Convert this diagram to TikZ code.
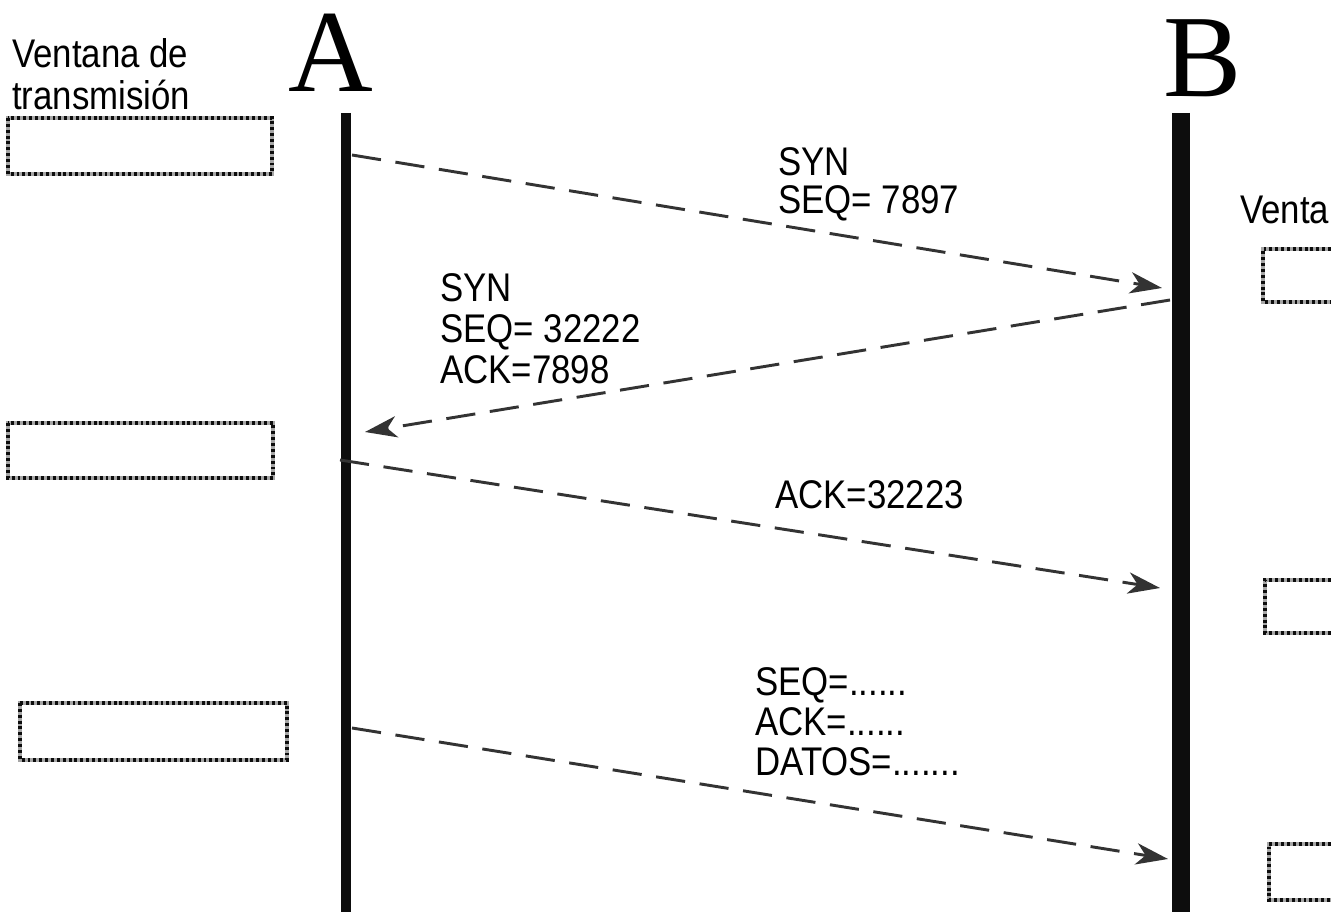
\documentclass[tikz,border=0pt]{standalone}
\usepackage{fontspec}
\setmainfont{Liberation Sans}
\newfontfamily\lblfont[FakeStretch=0.87]{Liberation Sans}
\newfontfamily\serifbig{Liberation Serif}
\usetikzlibrary{arrows.meta}
\tikzset{
  lbl/.style={anchor=north west, inner sep=0pt, align=left,
    font=\lblfont\fontsize{30}{30}\selectfont},
  big/.style={anchor=base, inner sep=0pt, font=\serifbig\fontsize{88}{88}\selectfont},
  life/.style={draw=black!95},
  msg/.style={draw=black!80, line width=2.2pt, dash pattern=on 22pt off 11pt,
    -{Stealth[length=24pt,width=16pt,inset=7pt]}},
  winbg/.style={draw=black!35, line width=2.6pt},
  winfg/.style={draw=black!95, line width=2.6pt, dash pattern=on 2.2pt off 2.2pt},
}
\begin{document}
\begin{tikzpicture}[x=0.75pt,y=-0.75pt]
\useasboundingbox (0,0) rectangle (1331,912);
% lifelines
\node[big] (A) at (331,92) {A};
\node[big] (B) at (1203,97) {B};
\coordinate (Atop) at (346,113);
\coordinate (Abot) at (346,912);
\coordinate (Btop) at (1181,113);
\coordinate (Bbot) at (1181,912);
\draw[life, line width=7.5pt] (Atop) -- (Abot);
\draw[life, line width=14pt] (Btop) -- (Bbot);
% left title
\node[lbl, font=\lblfont\fontsize{30}{32}\selectfont] (vt) at (12,38) {Ventana de\\transmisión};
\node[lbl] (vt2) at (1240,196) {Venta};
% left windows
\foreach \n/\xa/\ya/\xb/\yb in {w1/8/118/272/174, w2/8/423/273/478, w3/20/703/287/760}{
  \draw[winbg] (\xa,\ya) rectangle (\xb,\yb);
  \draw[winfg] (\xa,\ya) rectangle (\xb,\yb);
  \coordinate (\n) at (\xa,\ya);
}
% right windows (cut by the border)
\foreach \xa/\ya/\yb in {1263/249/302, 1265/580/633, 1269/844/900}{
  \draw[winbg] (1331,\ya) -- (\xa,\ya) -- (\xa,\yb) -- (1331,\yb);
  \draw[winfg] (1331,\ya) -- (\xa,\ya) -- (\xa,\yb) -- (1331,\yb);
}
% messages
\coordinate (a1) at (352,155);
\coordinate (b1) at (1162,288);
\coordinate (b2) at (1170,300);
\coordinate (a2) at (365,432);
\coordinate (a3) at (340,460);
\coordinate (b3) at (1160,588);
\coordinate (a4) at (352,728);
\coordinate (b4) at (1168,859);
\draw[msg] (a1) -- (b1);
\draw[msg] (b2) -- (a2);
\draw[msg] (a3) -- (b3);
\draw[msg] (a4) -- (b4);
% labels
\node[lbl, font=\lblfont\fontsize{30}{29}\selectfont] (l1) at (778,147) {SYN\\SEQ= 7897};
\node[lbl, font=\lblfont\fontsize{30}{31}\selectfont] (l2) at (440,273) {SYN\\SEQ= 32222\\ACK=7898};
\node[lbl] (l3) at (775,480) {ACK=32223};
\node[lbl] (l4) at (755,667) {SEQ=......\\ACK=......\\DATOS=.......};
\end{tikzpicture}
\end{document}
